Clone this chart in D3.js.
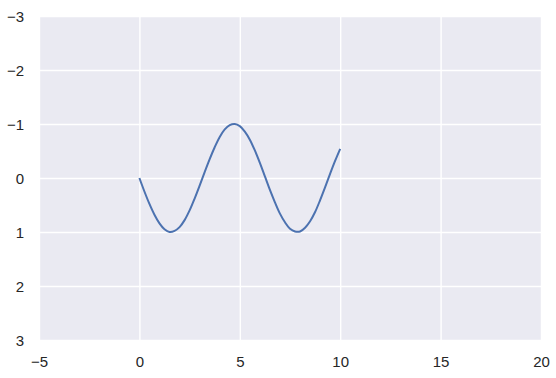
<!DOCTYPE html>
<html><head><meta charset="utf-8">
<style>
body { margin: 0; background: #fff; }
text { font-family: "Liberation Sans", Arial, sans-serif; }
</style>
</head><body><svg width="556" height="378"></svg>
<script src="https://cdn.jsdelivr.net/npm/d3@7"></script>
<script>

// points
var xs = [0, 0.25, 0.5, 0.75, 1, 1.25, 1.5, 1.75, 2, 2.25, 2.5, 2.75, 3, 3.25, 3.5, 3.75,
          4, 4.25, 4.5, 4.75, 5, 5.25, 5.5, 5.75, 6, 6.25, 6.5, 6.75, 7, 7.25, 7.5, 7.75,
          8, 8.25, 8.5, 8.75, 9, 9.25, 9.5, 9.75, 10];
var ys = [0, 0.25, 0.48, 0.68, 0.84, 0.95, 1.0, 0.98, 0.91, 0.78, 0.6, 0.38, 0.14, -0.11,
          -0.35, -0.57, -0.76, -0.9, -0.98, -1.0, -0.96, -0.86, -0.71, -0.51, -0.28, -0.03,
          0.22, 0.45, 0.66, 0.82, 0.94, 0.99, 0.99, 0.92, 0.8, 0.63, 0.41, 0.17, -0.08, -0.32, -0.54];

var xTicks = [-5, 0, 5, 10, 15, 20];
var yTicks = [-3, -2, -1, 0, 1, 2, 3];

var svg = d3.select("svg"),
    plotLeft = 39, plotRight = 541, plotTop = 16, plotBottom = 340;

var x = d3.scaleLinear().domain([-5, 20]).range([plotLeft, plotRight]);
var y = d3.scaleLinear().domain([3, -3]).range([plotBottom, plotTop]);

svg.append("rect")
    .attr("x", plotLeft).attr("y", plotTop)
    .attr("width", plotRight - plotLeft).attr("height", plotBottom - plotTop)
    .attr("fill", "#eaeaf2");

var xAxis = svg.append("g")
    .attr("transform", "translate(0," + plotBottom + ")")
    .call(d3.axisBottom(x).tickValues(xTicks).tickFormat(d3.format("d"))
        .tickSize(-(plotBottom - plotTop)).tickPadding(16));

var yAxis = svg.append("g")
    .attr("transform", "translate(" + plotLeft + ",0)")
    .call(d3.axisLeft(y).tickValues(yTicks).tickFormat(d3.format("d"))
        .tickSize(-(plotRight - plotLeft)).tickPadding(15));

[xAxis, yAxis].forEach(function(g) {
  g.select(".domain").remove();
  g.selectAll("line").attr("stroke", "#fff").attr("stroke-width", 1.4);
  g.selectAll("text").attr("fill", "#262626").style("font-size", "15px");
});
yAxis.selectAll("text").attr("dy", "0.36em");
xAxis.selectAll("text").attr("dy", "0.72em");

var line = d3.line()
    .x(function(d, i) { return x(xs[i]); })
    .y(function(d) { return y(d); })
    .curve(d3.curveCatmullRom);

svg.append("path")
    .datum(ys)
    .attr("d", line)
    .attr("fill", "none")
    .attr("stroke", "#4c72b0")
    .attr("stroke-width", 2);

</script>
</body></html>
